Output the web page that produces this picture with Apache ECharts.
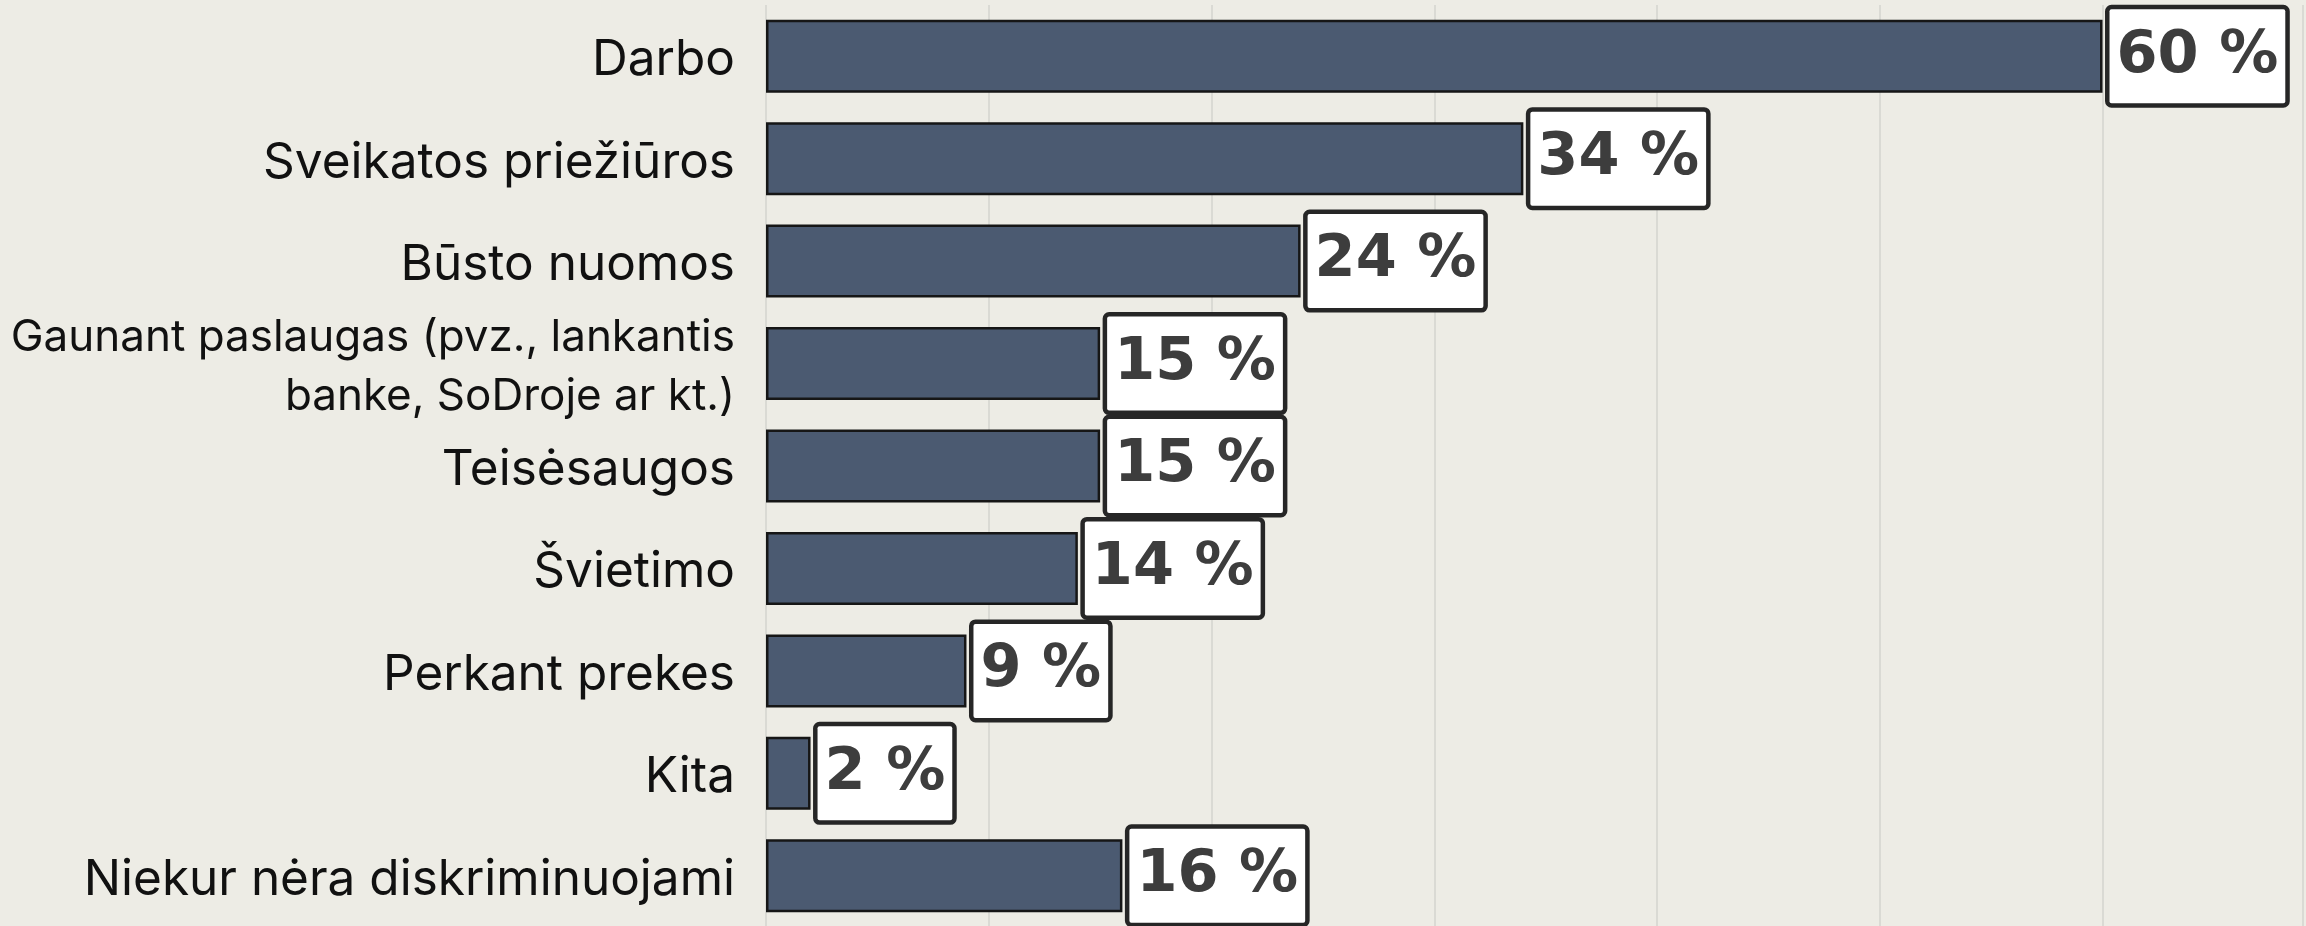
<!DOCTYPE html>
<html>
<head>
<meta charset="utf-8">
<script src="https://cdn.jsdelivr.net/npm/echarts@6/dist/echarts.min.js"></script>
<style>
  html, body { margin: 0; padding: 0; background: #edece5; }
  #chart { width: 2306px; height: 926px; }
</style>
</head>
<body>
<div id="chart"></div>
<script>
  var categories = [
    'Darbo',
    'Sveikatos priežiūros',
    'Būsto nuomos',
    'Gaunant paslaugas (pvz., lankantis\nbanke, SoDroje ar kt.)',
    'Teisėsaugos',
    'Švietimo',
    'Perkant prekes',
    'Kita',
    'Niekur nėra diskriminuojami'
  ];
  var values = [60, 34, 24, 15, 15, 14, 9, 2, 16];

  var chart = echarts.init(document.getElementById('chart'));

  // two-line names are set a bit smaller, like in the original
  var labelData = categories.map(function (name) {
    if (name.indexOf('\n') > -1) {
      return { value: name, textStyle: { fontSize: 44 } };
    }
    return name;
  });

  // second grid only carries the category names, a few px lower than the bars
  var option = {
    backgroundColor: '#edece5',
    animation: false,
    grid: [{
      left: 766,
      right: 3,
      top: 5,
      height: 922,
      containLabel: false,
      outerBoundsMode: 'none'
    }, {
      left: 766,
      right: 3,
      top: 9,
      height: 922,
      containLabel: false,
      outerBoundsMode: 'none'
    }],
    xAxis: [{
      type: 'value',
      gridIndex: 0,
      min: 0,
      max: 69,
      interval: 10,
      axisLine: { show: false },
      axisTick: { show: false },
      axisLabel: { show: false },
      splitLine: {
        lineStyle: { color: '#dadad4', width: 2 }
      }
    }, {
      type: 'value',
      gridIndex: 1,
      min: 0,
      max: 69,
      show: false
    }],
    yAxis: [{
      type: 'category',
      gridIndex: 0,
      inverse: true,
      data: categories,
      axisLine: { show: false },
      axisTick: { show: false },
      axisLabel: { show: false }
    }, {
      type: 'category',
      gridIndex: 1,
      inverse: true,
      data: labelData,
      axisLine: { show: false },
      axisTick: { show: false },
      splitLine: { show: false },
      axisLabel: {
        margin: 31,
        fontFamily: 'Inter',
        fontSize: 49.5,
        lineHeight: 59,
        color: '#111111',
        align: 'right'
      }
    }],
    series: [{
      type: 'bar',
      xAxisIndex: 0,
      yAxisIndex: 0,
      data: values,
      barWidth: 73,
      itemStyle: {
        color: '#4b5a71',
        borderColor: '#161616',
        borderWidth: 2.5
      },
      label: {
        show: true,
        position: 'right',
        distance: 7,
        formatter: '{c} %',
        fontFamily: 'DejaVu Sans',
        fontWeight: 'bold',
        fontSize: 59,
        lineHeight: 62,
        color: '#3d3d3d',
        backgroundColor: '#ffffff',
        borderColor: '#262626',
        borderWidth: 4.5,
        borderRadius: 2,
        padding: [16, 7, 16, 7]
      }
    }]
  };

  chart.setOption(option);
</script>
</body>
</html>
